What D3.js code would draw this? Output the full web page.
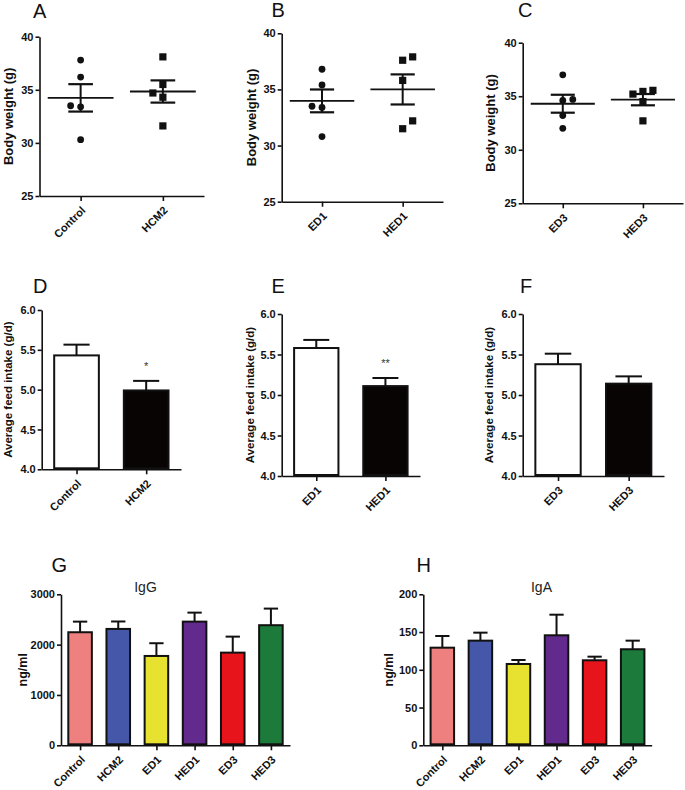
<!DOCTYPE html>
<html>
<head>
<meta charset="utf-8">
<script src="https://cdn.jsdelivr.net/npm/d3@7"></script>
<style>
  body { margin: 0; background: #fff; }
  svg { font-family: "Liberation Sans", Arial, sans-serif; }
  .tick text { font-weight: bold; font-size: 11px; fill: #111; }
  .ylab { font-weight: bold; fill: #111; }
</style>
</head>
<body>
<div id="chart"></div>
<script>
// body weight, individual mice (g) + horizontal slot each dot sits in
const bwControl = [37.8, 36.2, 33.5, 33.4, 30.3];
const bwControlSlot = [0, 0, -1, 0, 0];
const bwHCM2 = [38.1, 35.5, 34.7, 34.3, 31.6];
const bwHCM2Slot = [0, 0, -1, 0, 0];
const bwED1 = [36.8, 35.4, 33.5, 33.4, 30.8];
const bwED1Slot = [0, 0, -1, 0, 0];
const bwHED1 = [37.9, 37.6, 35.8, 32.2, 31.5];
const bwHED1Slot = [1, 0, 0, 1, 0];
const bwED3 = [37.0, 34.7, 34.6, 33.2, 32.0];
const bwED3Slot = [0, 1, 0, 0, 0];
const bwHED3 = [35.55, 35.45, 35.2, 34.5, 32.7];
const bwHED3Slot = [1, 0, -1, 0, 0];
const weightTicks = [25, 30, 35, 40];

// average feed intake (g/d), mean and SEM
const feedGroupsD = ['Control', 'HCM2'];
const feedMeanD = [5.43, 4.99];
const feedSemD = [0.135, 0.12];
const feedSigD = ['', '*'];
const feedGroupsE = ['ED1', 'HED1'];
const feedMeanE = [5.58, 5.11];
const feedSemE = [0.10, 0.10];
const feedSigE = ['', '**'];
const feedGroupsF = ['ED3', 'HED3'];
const feedMeanF = [5.38, 5.14];
const feedSemF = [0.13, 0.09];
const feedSigF = ['', ''];
const feedTicks = [4.0, 4.5, 5.0, 5.5, 6.0];

// serum immunoglobulins (ng/ml)
const igGroups = ['Control', 'HCM2', 'ED1', 'HED1', 'ED3', 'HED3'];
const igColors = ['#ef8080', '#4457a8', '#e6e22f', '#632a8d', '#e8141c', '#1c7a3a'];
const igGMean = [2246, 2312, 1775, 2457, 1841, 2386];
const igGErr = [211, 148, 253, 179, 318, 330];
const igGTicks = [0, 1000, 2000, 3000];
const igAMean = [129.3, 138.6, 107.7, 145.7, 112.6, 127.2];
const igAErr = [15.5, 10.6, 5.3, 27.3, 4.8, 11.4];
const igATicks = [0, 50, 100, 150, 200];

const svg = d3.select('#chart').append('svg').attr('width', 685).attr('height', 790);
svg.append('rect').attr('width', 685).attr('height', 790).attr('fill', '#fff');

function panelLetter(txt, x, y) {
    svg.append('text').attr('x', x).attr('y', y).attr('font-size', 20).attr('fill', '#111').text(txt);
}

// draws both axes, returns the scales
function axes(p) {
    const y = d3.scaleLinear().domain(p.yDomain).range([p.bottom, p.top]);
    const x = d3.scalePoint().domain(p.groups).range([p.left, p.right]).padding(0.5);
    const g = svg.append('g');

    const ya = g.append('g').attr('transform', `translate(${p.left},0)`)
        .call(d3.axisLeft(y).tickValues(p.ticks).tickFormat(d3.format(p.fmt)).tickSize(4).tickSizeOuter(0).tickPadding(2));
    const xa = g.append('g').attr('transform', `translate(0,${p.bottom})`)
        .call(d3.axisBottom(x).tickSize(5).tickSizeOuter(0));
    [ya, xa].forEach(a => {
        a.select('.domain').attr('stroke', '#111').attr('stroke-width', 1.6);
        a.selectAll('.tick line').attr('stroke', '#111').attr('stroke-width', 1.6);
    });
    xa.selectAll('.tick text')
        .attr('text-anchor', 'end')
        .attr('dy', null).attr('y', 0)
        .attr('transform', 'translate(5,15) rotate(-45)');

    g.append('text').attr('class', 'ylab')
        .attr('font-size', p.labSize)
        .attr('transform', `translate(${p.left - p.labOff},${(p.top + p.bottom) / 2}) rotate(-90)`)
        .attr('text-anchor', 'middle').attr('dy', '0.35em')
        .text(p.ylabel);
    return { x, y, g };
}

function scatterPanel(p) {
    const { x, y, g } = axes(p);
    const step = x.step();
    p.series.forEach((vals, i) => {
        const cx = x(p.groups[i]);
        const mean = d3.mean(vals);
        const sem = d3.deviation(vals) / Math.sqrt(vals.length);
        const pts = vals.map((v, j) => ({ v, s: p.slots[i][j] }));
        if (i === 0) {
            g.selectAll(null).data(pts).enter().append('circle')
                .attr('cx', d => cx + d.s * 10).attr('cy', d => y(d.v))
                .attr('r', 3.4).attr('fill', '#111');
        } else {
            g.selectAll(null).data(pts).enter().append('rect')
                .attr('x', d => cx + d.s * 10 - 3.6).attr('y', d => y(d.v) - 3.6)
                .attr('width', 7.2).attr('height', 7.2).attr('fill', '#111');
        }
        const mw = step * 0.4, cw = step * 0.15;
        g.append('line').attr('x1', cx - mw).attr('x2', cx + mw)
            .attr('y1', y(mean)).attr('y2', y(mean)).attr('stroke', '#111').attr('stroke-width', 1.8);
        g.append('line').attr('x1', cx).attr('x2', cx)
            .attr('y1', y(mean + sem)).attr('y2', y(mean - sem)).attr('stroke', '#111').attr('stroke-width', 2);
        [mean + sem, mean - sem].forEach(v => {
            g.append('line').attr('x1', cx - cw).attr('x2', cx + cw)
                .attr('y1', y(v)).attr('y2', y(v)).attr('stroke', '#111').attr('stroke-width', 2.2);
        });
    });
}

function barPanel(p) {
    const { x, y, g } = axes(p);
    const bw = x.step() * p.barFrac;
    const data = p.groups.map((name, i) => ({ name, m: p.mean[i], e: p.err[i], c: p.colors[i], sig: p.sig ? p.sig[i] : '' }));

    // error bars (upper half only) behind the bars
    data.forEach(d => {
        const cx = x(d.name);
        g.append('line').attr('x1', cx).attr('x2', cx).attr('y1', y(d.m)).attr('y2', y(d.m + d.e))
            .attr('stroke', '#111').attr('stroke-width', 2);
        g.append('line').attr('x1', cx - bw * 0.28).attr('x2', cx + bw * 0.28)
            .attr('y1', y(d.m + d.e)).attr('y2', y(d.m + d.e)).attr('stroke', '#111').attr('stroke-width', 2);
        if (d.sig) {
            g.append('text').attr('x', cx).attr('y', y(d.m + d.e) - 11)
                .attr('text-anchor', 'middle').attr('font-size', 11).attr('fill', '#333').text(d.sig);
        }
    });
    g.selectAll(null).data(data).enter().append('rect')
        .attr('x', d => x(d.name) - bw / 2 + 1)
        .attr('y', d => y(d.m))
        .attr('width', bw - 2)
        .attr('height', d => y(p.yDomain[0]) - y(d.m) - 1)
        .attr('fill', d => d.c).attr('stroke', '#111').attr('stroke-width', 2);

    if (p.title) {
        g.append('text').attr('x', (p.left + p.right) / 2 + p.titleShift).attr('y', p.top - 2)
            .attr('text-anchor', 'middle').attr('font-size', 14).attr('fill', '#222').text(p.title);
    }
}

// A, B, C
panelLetter('A', 33, 18);
scatterPanel({ groups: ['Control', 'HCM2'], series: [bwControl, bwHCM2], slots: [bwControlSlot, bwHCM2Slot],
    yDomain: [25, 40], ticks: weightTicks, fmt: 'd', ylabel: 'Body weight (g)', labSize: 13,
    left: 39.5, right: 204, top: 36.7, bottom: 196, labOff: 31 });
panelLetter('B', 271.5, 17);
scatterPanel({ groups: ['ED1', 'HED1'], series: [bwED1, bwHED1], slots: [bwED1Slot, bwHED1Slot],
    yDomain: [25, 40], ticks: weightTicks, fmt: 'd', ylabel: 'Body weight (g)', labSize: 13,
    left: 281.7, right: 443, top: 33.3, bottom: 201.7, labOff: 30 });
panelLetter('C', 518, 17);
scatterPanel({ groups: ['ED3', 'HED3'], series: [bwED3, bwHED3], slots: [bwED3Slot, bwHED3Slot],
    yDomain: [25, 40], ticks: weightTicks, fmt: 'd', ylabel: 'Body weight (g)', labSize: 13,
    left: 522.7, right: 683, top: 42.7, bottom: 203.3, labOff: 32.5 });

// D, E, F
const feedColors = ['#ffffff', '#080404'];
panelLetter('D', 33, 293);
barPanel({ groups: feedGroupsD, mean: feedMeanD, err: feedSemD, sig: feedSigD, colors: feedColors,
    yDomain: [4, 6], ticks: feedTicks, fmt: '.1f', ylabel: 'Average feed intake (g/d)', labSize: 11.5, barFrac: 0.67,
    left: 41.7, right: 181, top: 310, bottom: 469.3, labOff: 34 });
panelLetter('E', 271.5, 293);
barPanel({ groups: feedGroupsE, mean: feedMeanE, err: feedSemE, sig: feedSigE, colors: feedColors,
    yDomain: [4, 6], ticks: feedTicks, fmt: '.1f', ylabel: 'Average feed intake (g/d)', labSize: 11.5, barFrac: 0.67,
    left: 281.7, right: 420, top: 314, bottom: 476, labOff: 32 });
panelLetter('F', 520, 293);
barPanel({ groups: feedGroupsF, mean: feedMeanF, err: feedSemF, sig: feedSigF, colors: feedColors,
    yDomain: [4, 6], ticks: feedTicks, fmt: '.1f', ylabel: 'Average feed intake (g/d)', labSize: 11.5, barFrac: 0.67,
    left: 522.7, right: 664, top: 314, bottom: 476, labOff: 34 });

// G, H
panelLetter('G', 51.5, 572);
barPanel({ groups: igGroups, mean: igGMean, err: igGErr, colors: igColors, title: 'IgG', titleShift: -30,
    yDomain: [0, 3000], ticks: igGTicks, fmt: 'd', ylabel: 'ng/ml', labSize: 12.5, barFrac: 0.67,
    left: 61, right: 290, top: 594.3, bottom: 745.3, labOff: 38 });
panelLetter('H', 416.5, 572);
barPanel({ groups: igGroups, mean: igAMean, err: igAErr, colors: igColors, title: 'IgA', titleShift: 4,
    yDomain: [0, 200], ticks: igATicks, fmt: 'd', ylabel: 'ng/ml', labSize: 12.5, barFrac: 0.67,
    left: 423.3, right: 651.7, top: 594.3, bottom: 745.3, labOff: 35 });
</script>
</body>
</html>
